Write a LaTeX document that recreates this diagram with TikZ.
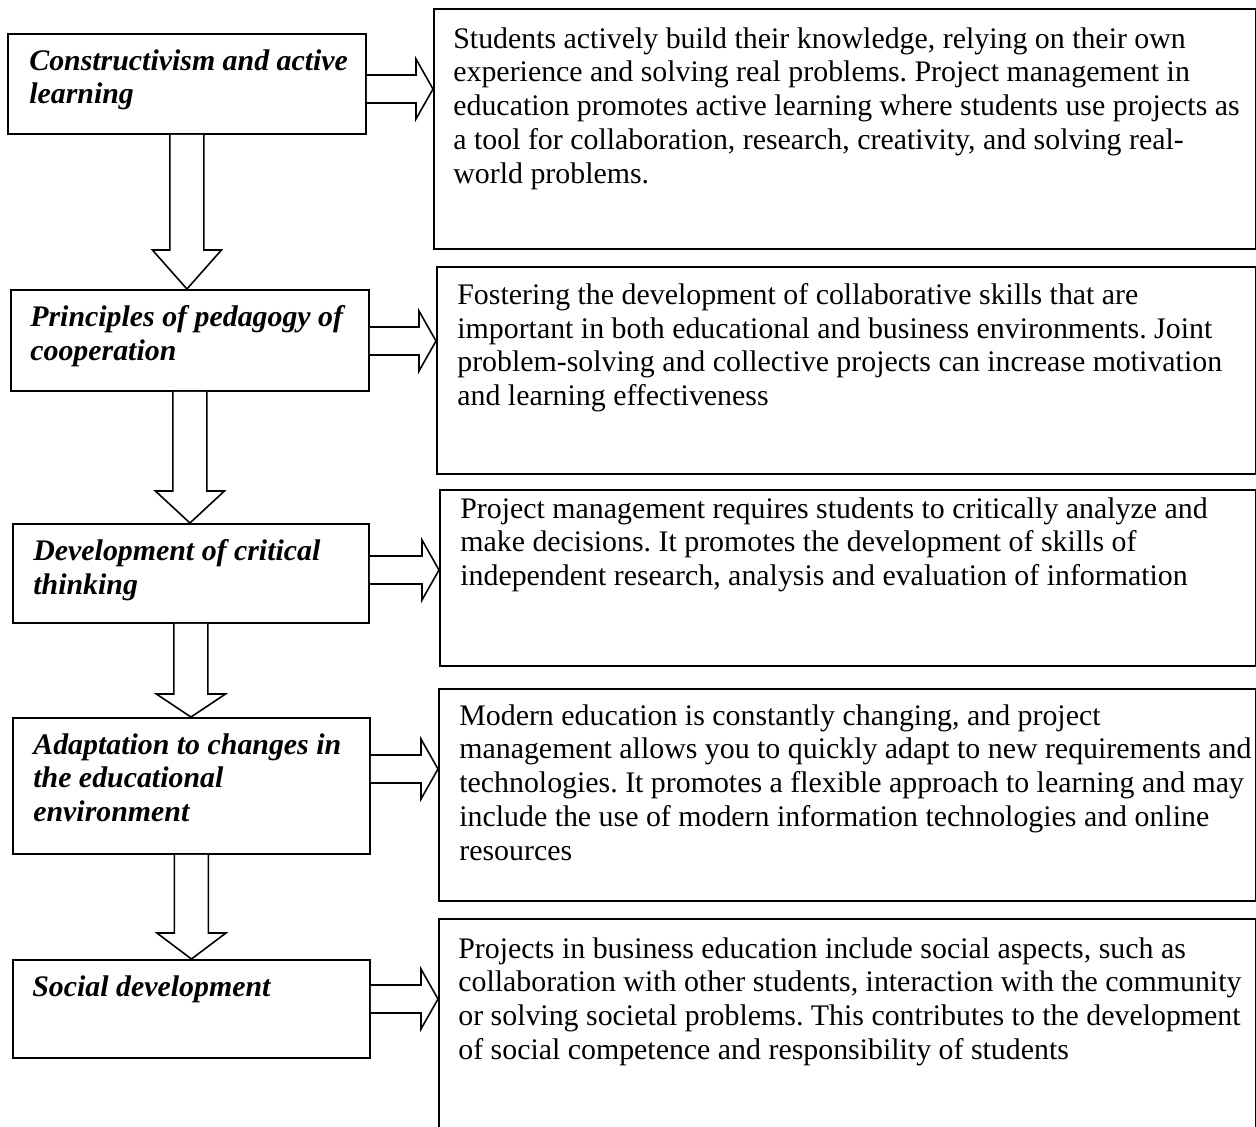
\documentclass[tikz,border=0pt]{standalone}
\usepackage{fontspec}
\setmainfont{Liberation Serif}
\usetikzlibrary{calc}
\frenchspacing

% hollow block arrows between named boxes
\newcommand{\downblock}[3]{%
  \draw[blkarrow] let \p1=(#1.south), \p2=(#2.north) in
    (\x1-0.34cm,\y1) -- (\x1-0.34cm,\y2+#3) -- (\x1-0.69cm,\y2+#3) -- (\x1,\y2)
    -- (\x1+0.69cm,\y2+#3) -- (\x1+0.34cm,\y2+#3) -- (\x1+0.34cm,\y1);}
\newcommand{\rightblock}[3]{%
  \draw[blkarrow] let \p1=($(#1.north east)+(0,#3)$), \p2=(#2.west) in
    (\x1,\y1+0.28cm) -- (\x2-0.34cm,\y1+0.28cm) -- (\x2-0.34cm,\y1+0.6cm) -- (\x2,\y1)
    -- (\x2-0.34cm,\y1-0.6cm) -- (\x2-0.34cm,\y1-0.28cm) -- (\x1,\y1-0.28cm);}

\tikzset{
  leftbox/.style={draw, line width=1.1pt, anchor=north west, inner sep=0pt},
  descbox/.style={draw, line width=1.1pt, anchor=north west, inner sep=0pt},
  lbltext/.style={font=\fontsize{17}{19.2}\selectfont\bfseries\itshape, align=left, inner sep=0pt, anchor=north west},
  desctext/.style={font=\fontsize{17}{19.2}\selectfont, align=left, inner sep=0pt, anchor=north west},
  blkarrow/.style={draw, fill=white, line width=0.9pt, line join=miter}
}

\begin{document}
\begin{tikzpicture}[x=0.02cm, y=-0.02cm]
  \useasboundingbox (0,0) rectangle (1256,1126);
  % Left column
  \node[leftbox, minimum width=7.16cm, minimum height=2.0cm] (c1) at (7,33) {};
  \node[leftbox, minimum width=7.16cm, minimum height=2.02cm] (c2) at (10,289) {};
  \node[leftbox, minimum width=7.12cm, minimum height=1.98cm] (c3) at (12,523) {};
  \node[leftbox, minimum width=7.14cm, minimum height=2.72cm] (c4) at (12,717) {};
  \node[leftbox, minimum width=7.14cm, minimum height=1.96cm] (c5) at (12,959) {};
  \node[lbltext] (t1) at ($(c1.north west)+(22,16)$) {Constructivism and active\\learning};
  \node[lbltext] (t2) at ($(c2.north west)+(20,16)$) {Principles of pedagogy of\\cooperation};
  \node[lbltext] (t3) at ($(c3.north west)+(21,16)$) {Development of critical\\thinking};
  \node[lbltext] (t4) at ($(c4.north west)+(21,16)$) {Adaptation to changes in\\the educational\\environment};
  \node[lbltext] (t5) at ($(c5.north west)+(20,16)$) {Social development};
  % Right column
  \node[descbox, minimum width=16.44cm, minimum height=4.8cm] (r1) at (433,8) {};
  \node[descbox, minimum width=16.38cm, minimum height=4.14cm] (r2) at (436,266) {};
  \node[descbox, minimum width=16.32cm, minimum height=3.52cm] (r3) at (439,489) {};
  \node[descbox, minimum width=16.34cm, minimum height=4.24cm] (r4) at (438,688) {};
  \node[descbox, minimum width=16.34cm, minimum height=4.6cm] (r5) at (438,918) {};
  \node[desctext] (d1) at ($(r1.north west)+(20,19)$) {Students actively build their knowledge, relying on their own\\experience and solving real problems. Project management in\\education promotes active learning where students use projects as\\a tool for collaboration, research, creativity, and solving real-\\world problems.};
  \node[desctext] (d2) at ($(r2.north west)+(21,17)$) {Fostering the development of collaborative skills that are\\important in both educational and business environments. Joint\\problem-solving and collective projects can increase motivation\\and learning effectiveness};
  \node[desctext] (d3) at ($(r3.north west)+(21,8)$) {Project management requires students to critically analyze and\\make decisions. It promotes the development of skills of\\independent research, analysis and evaluation of information};
  \node[desctext] (d4) at ($(r4.north west)+(21,16)$) {Modern education is constantly changing, and project\\management allows you to quickly adapt to new requirements and\\technologies. It promotes a flexible approach to learning and may\\include the use of modern information technologies and online\\resources};
  \node[desctext] (d5) at ($(r5.north west)+(20,19)$) {Projects in business education include social aspects, such as\\collaboration with other students, interaction with the community\\or solving societal problems. This contributes to the development\\of social competence and responsibility of students};
  % Down arrows
  \downblock{c1}{c2}{0.78cm}
  \downblock{c2}{c3}{0.64cm}
  \downblock{c3}{c4}{0.46cm}
  \downblock{c4}{c5}{0.52cm}
  % Right arrows
  \rightblock{c1}{r1}{56}
  \rightblock{c2}{r2}{52}
  \rightblock{c3}{r3}{47}
  \rightblock{c4}{r4}{52}
  \rightblock{c5}{r5}{40}
\end{tikzpicture}
\end{document}
